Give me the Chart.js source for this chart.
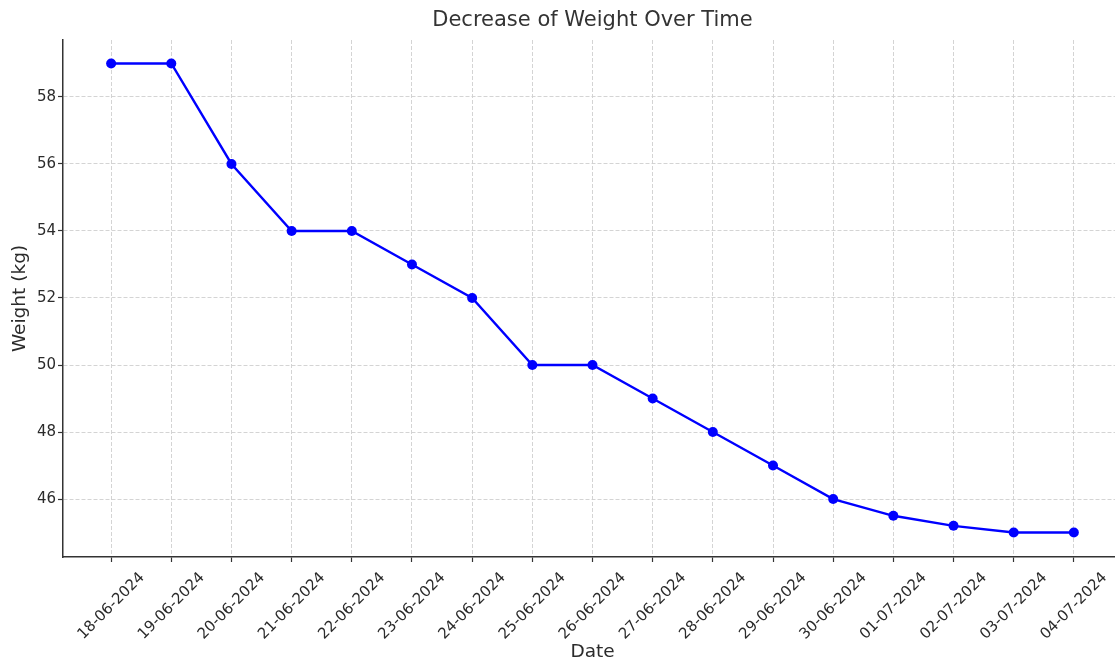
<!DOCTYPE html>
<html>
<head>
<meta charset="utf-8">
<script src="https://cdn.jsdelivr.net/npm/chart.js@4"></script>
<style>
html,body{margin:0;padding:0;background:#fff;overflow:hidden;}
#wrap{width:1115px;height:663px;overflow:hidden;}
</style>
</head>
<body>
<div id="wrap"><canvas id="c" width="1127" height="663"></canvas></div>
<script>
const dates = ["18-06-2024","19-06-2024","20-06-2024","21-06-2024","22-06-2024","23-06-2024","24-06-2024","25-06-2024","26-06-2024","27-06-2024","28-06-2024","29-06-2024","30-06-2024","01-07-2024","02-07-2024","03-07-2024","04-07-2024"];
const weights = [59, 59, 56, 54, 54, 53, 52, 50, 50, 49, 48, 47, 46, 45.5, 45.2, 45, 45];
const yTicks = [46, 48, 50, 52, 54, 56, 58];

const FONT = "'DejaVu Sans', sans-serif";
const TXT = '#2b2b2b';

const centerTitleOnAxes = {
  id: 'centerTitleOnAxes',
  afterLayout(chart) {
    const tb = chart.titleBlock;
    if (tb) {
      tb.left = chart.chartArea.left;
      tb.right = chart.chartArea.right;
      tb.width = tb.right - tb.left;
    }
  }
};

new Chart(document.getElementById('c'), {
  type: 'line',
  data: {
    datasets: [{
      data: weights.map((w, i) => ({x: i, y: w})),
      borderColor: '#0000ff',
      backgroundColor: '#0000ff',
      borderWidth: 2.4,
      pointRadius: 5,
      pointHoverRadius: 5,
      pointBorderWidth: 0,
      tension: 0
    }]
  },
  plugins: [centerTitleOnAxes],
  options: {
    responsive: false,
    animation: false,
    events: [],
    layout: {padding: {left: 0, right: 0, top: 0, bottom: 0}},
    plugins: {
      legend: {display: false},
      tooltip: {enabled: false},
      title: {
        display: true,
        text: 'Decrease of Weight Over Time',
        color: '#333333',
        font: {family: FONT, size: 21, weight: 'normal'},
        padding: {top: 8, bottom: 6.8}
      }
    },
    scales: {
      x: {
        type: 'linear',
        min: -0.8,
        max: 16.8,
        afterBuildTicks: (s) => { s.ticks = dates.map((_, i) => ({value: i})); },
        afterFit: (s) => { s.height = 106; },
        border: {display: true, color: '#333333', width: 1.5, dash: [4, 2]},
        grid: {
          color: '#cfcfcf', lineWidth: 0.9,
          tickLength: 5, tickColor: '#333333', tickBorderDash: [], tickWidth: 1.2
        },
        ticks: {
          autoSkip: false,
          minRotation: 45, maxRotation: 45,
          labelOffset: 31,
          padding: 7,
          color: TXT,
          font: {family: FONT, size: 15},
          callback: (v) => dates[v] !== undefined ? dates[v] : ''
        },
        title: {
          display: true, text: 'Date', color: TXT,
          font: {family: FONT, size: 18.5},
          padding: {top: 0, bottom: 0}
        }
      },
      y: {
        type: 'linear',
        min: 44.27,
        max: 59.7,
        afterBuildTicks: (s) => { s.ticks = yTicks.map(v => ({value: v})); },
        afterFit: (s) => { s.width = 63; },
        border: {display: true, color: '#333333', width: 1.5, dash: [4, 2]},
        grid: {
          color: '#cfcfcf', lineWidth: 0.9,
          tickLength: 5, tickColor: '#333333', tickBorderDash: [], tickWidth: 1.2
        },
        ticks: {
          padding: 2,
          color: TXT,
          font: {family: FONT, size: 15}
        },
        title: {
          display: true, text: 'Weight (kg)', color: TXT,
          font: {family: FONT, size: 18.5},
          padding: {top: 9.5, bottom: 0}
        }
      }
    }
  }
});
</script>
</body>
</html>
